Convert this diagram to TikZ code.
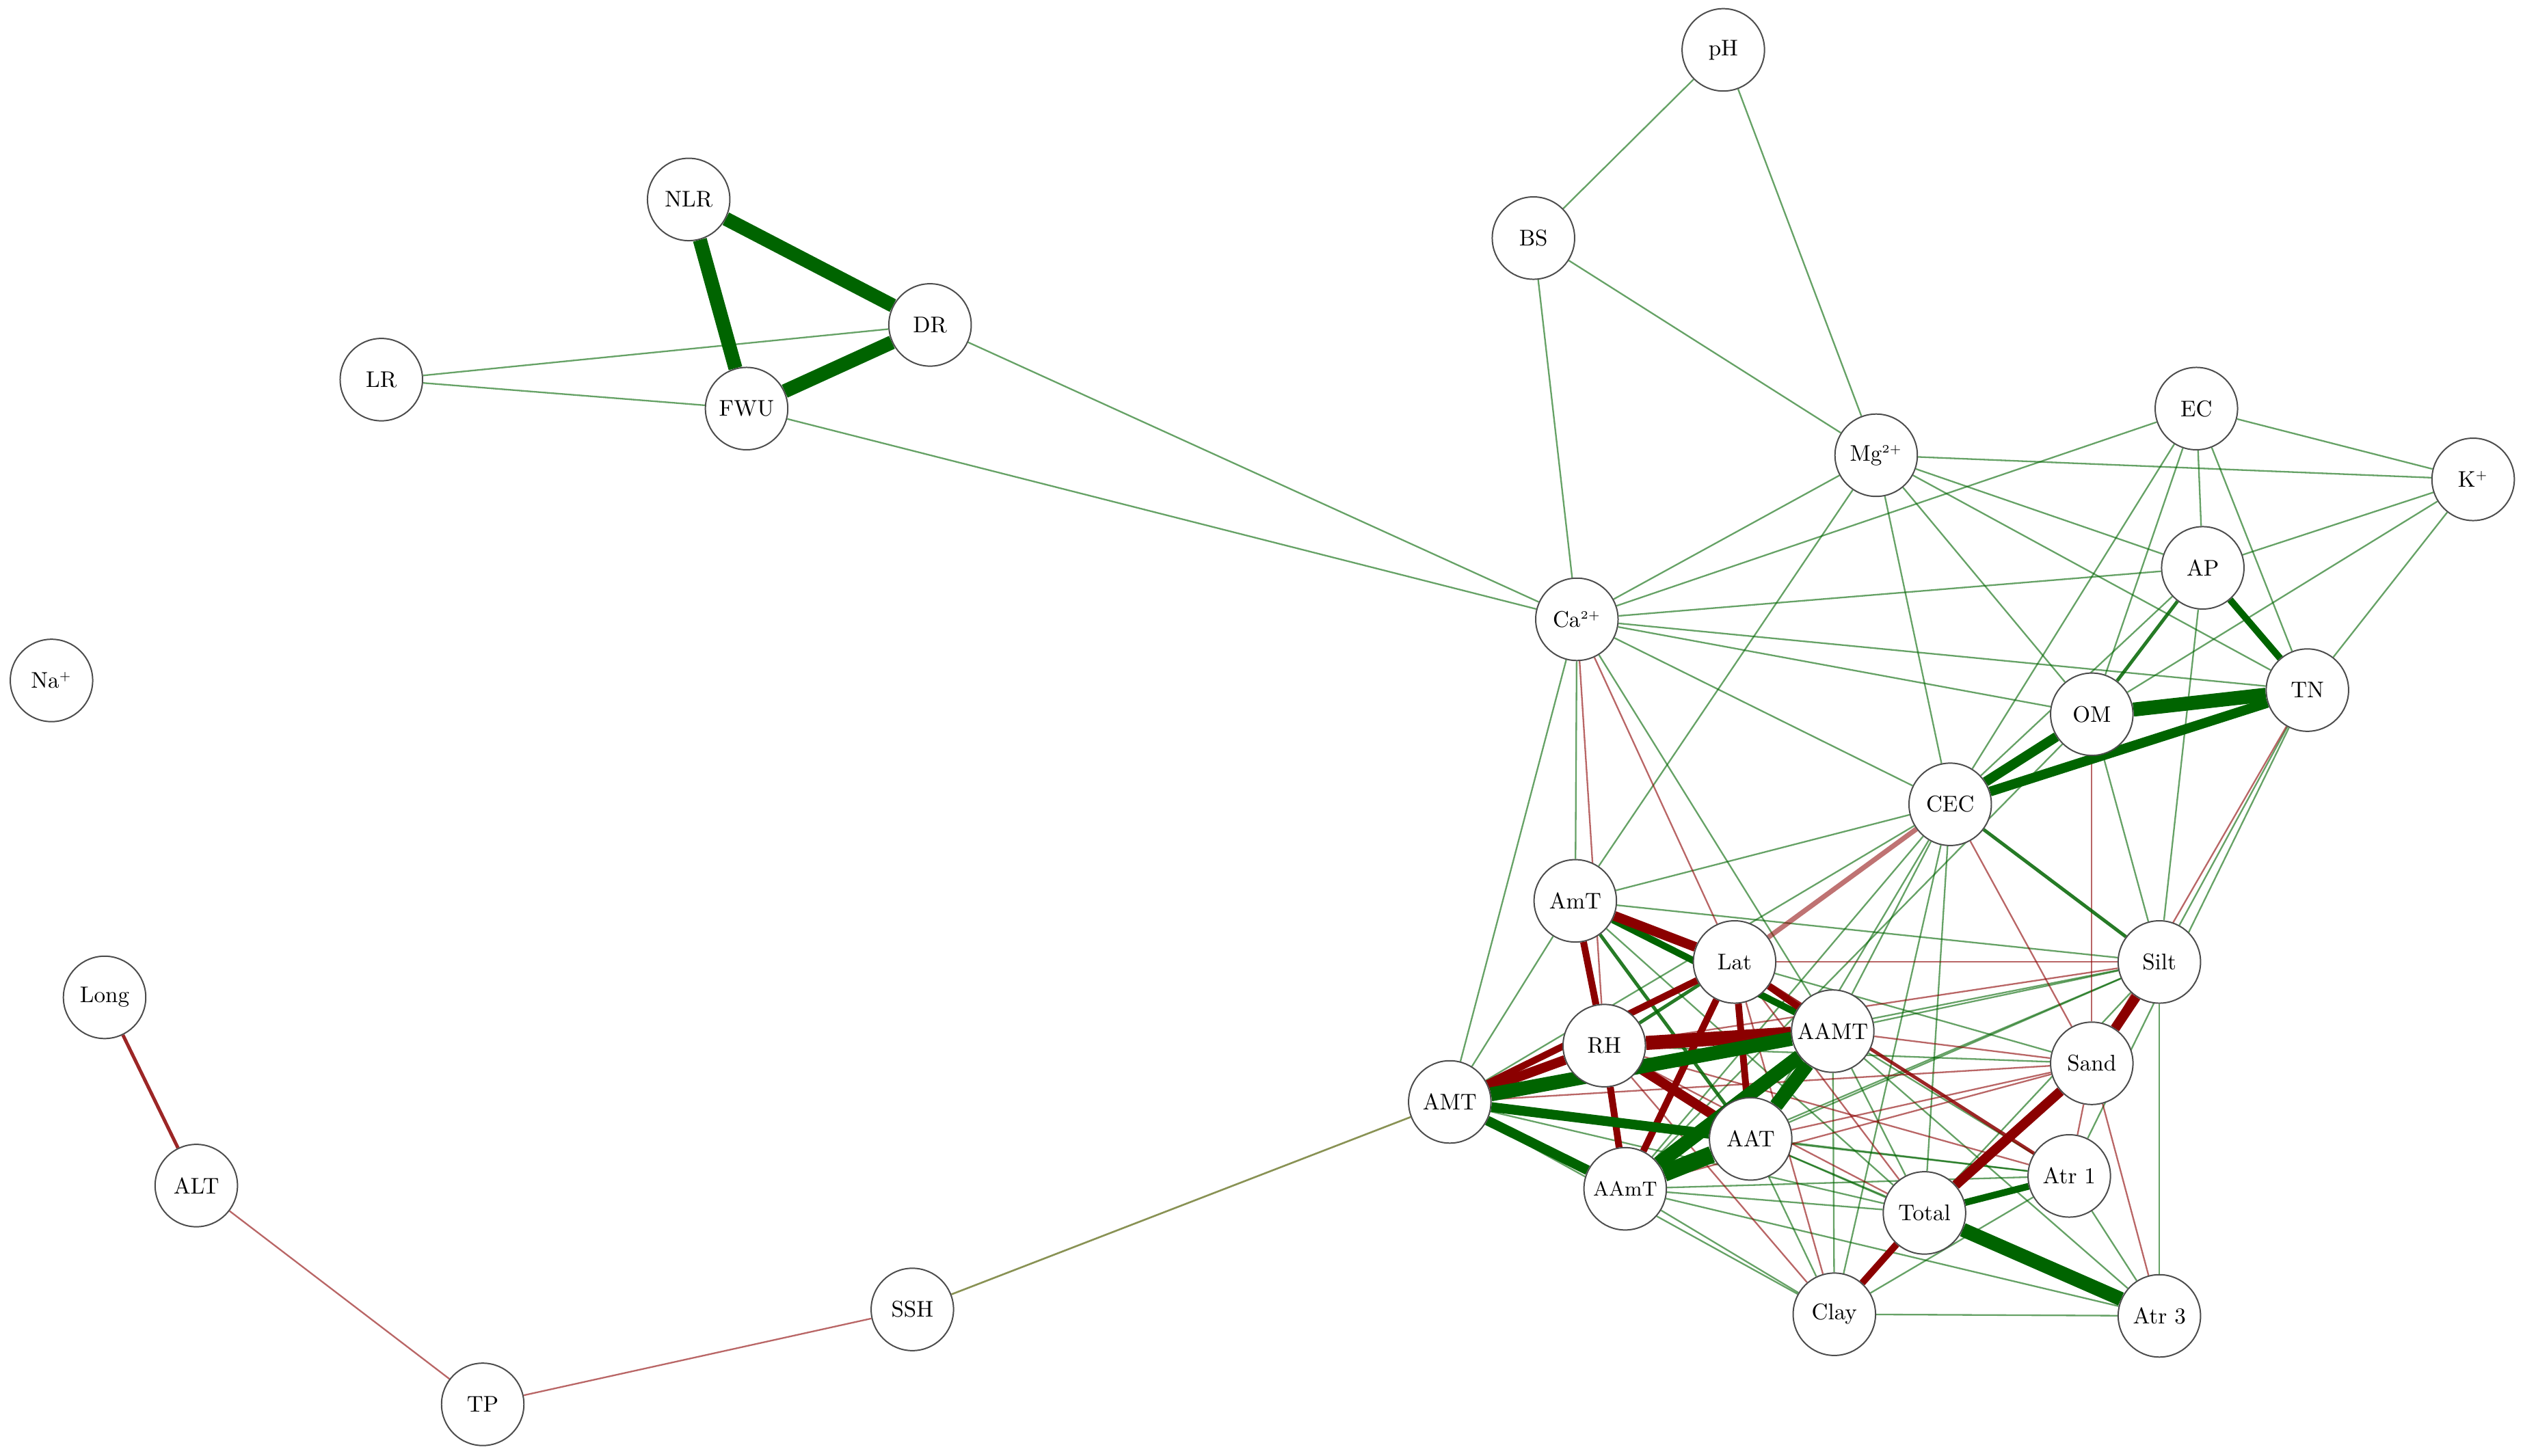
\documentclass[tikz,border=0pt]{standalone}
\usetikzlibrary{backgrounds}
\definecolor{posc}{RGB}{0,100,0}
\definecolor{negc}{RGB}{139,0,0}
\tikzset{
	var/.style={circle,draw=black!70,fill=white,line width=0.6pt,minimum size=1.28cm,inner sep=0pt},
	poscor/.style={draw=posc},
	negcor/.style={draw=negc},
	w1/.style={line width=0.7pt,draw opacity=0.6},
	w2/.style={line width=1.5pt,draw opacity=0.85},
	w3/.style={line width=3pt},
	w4/.style={line width=4.3pt},
	w5/.style={line width=6.2pt},
	w6/.style={line width=7.5pt}
}
\begin{document}
\begin{tikzpicture}[x=0.025cm,y=-0.025cm,font=\normalsize]
	\useasboundingbox (0,0) rectangle (1568,905);
	%%%bien
	\node[var] (pH) at (1071,31) {pH};
	\node[var] (NLR) at (428,124) {NLR};
	\node[var] (BS) at (953,148) {BS};
	\node[var] (DR) at (578,202) {DR};
	\node[var] (LR) at (237,236) {LR};
	\node[var] (FWU) at (464,254) {FWU};
	\node[var] (EC) at (1365,254) {EC};
	\node[var] (Mg) at (1166,283) {Mg\textsuperscript{\tiny 2+}};
	\node[var] (K) at (1537,298) {K\textsuperscript{\tiny +}};
	\node[var] (AP) at (1369,353) {AP};
	\node[var] (Ca) at (980,385) {Ca\textsuperscript{\tiny 2+}};
	\node[var] (Na) at (32,423) {Na\textsuperscript{\tiny +}};
	\node[var] (TN) at (1434,429) {TN};
	\node[var] (OM) at (1300,444) {OM};
	\node[var] (CEC) at (1212,500) {CEC};
	\node[var] (AmT) at (979,560) {AmT};
	\node[var] (Lat) at (1078,598) {Lat};
	\node[var] (Silt) at (1342,598) {Silt};
	\node[var] (Long) at (65,620) {Long};
	\node[var] (AAMT) at (1139,641) {AAMT};
	\node[var] (RH) at (997,650) {RH};
	\node[var] (Sand) at (1300,661) {Sand};
	\node[var] (AMT) at (901,685) {AMT};
	\node[var] (AAT) at (1088,708) {AAT};
	\node[var] (Atr1) at (1286,731) {Atr 1};
	\node[var] (ALT) at (122,737) {ALT};
	\node[var,font=\small] (AAmT) at (1010,739) {AAmT};
	\node[var] (Total) at (1196,754) {Total};
	\node[var] (SSH) at (567,814) {SSH};
	\node[var] (Clay) at (1140,817) {Clay};
	\node[var] (Atr3) at (1342,818) {Atr 3};
	\node[var] (TP) at (300,873) {TP};
	%%%canh
	\begin{pgfonlayer}{background}
		\foreach \x/\y in {LR/DR,LR/FWU,DR/Ca,FWU/Ca,pH/BS,pH/Mg,BS/Mg,BS/Ca,
			Mg/Ca,Mg/K,Mg/AP,Mg/TN,Mg/OM,Mg/CEC,Mg/AmT,
			EC/Ca,EC/K,EC/AP,EC/TN,EC/OM,EC/CEC,K/AP,K/OM,K/TN,
			AP/Ca,AP/CEC,AP/Silt,Ca/TN,Ca/OM,Ca/CEC,Ca/AMT,Ca/AmT,Ca/AAMT,
			OM/Silt,OM/AAmT,TN/Silt,TN/Atr1,
			CEC/AmT,CEC/AMT,CEC/AAMT,CEC/AAT,CEC/AAmT,CEC/Total,CEC/Clay,
			AmT/AMT,AmT/Silt,AmT/Total,
			AMT/Silt,AMT/Total,AMT/Atr1,AMT/Clay,
			AAMT/Silt,AAMT/Total,AAMT/Atr1,AAMT/Clay,AAMT/Atr3,
			AAT/Silt,AAT/Total,AAT/Atr1,AAT/Clay,AAT/Atr3,
			AAmT/Silt,AAmT/Total,AAmT/Atr1,AAmT/Clay,AAmT/Atr3,
			RH/Sand,Lat/Sand,Total/Silt,Silt/Atr3,Clay/Atr3,Clay/Atr1,Atr1/Atr3}
		\draw[poscor,w1] (\x)--(\y);
		\foreach \x/\y in {ALT/TP,TP/SSH,Ca/RH,Ca/Lat,AmT/AAmT,Lat/Silt,RH/Silt,
			Lat/Total,RH/Total,RH/Atr1,Lat/Clay,RH/Clay,CEC/Sand,OM/Sand,TN/Sand,
			AAMT/Sand,AMT/Sand,AAT/Sand,AAmT/Sand,Sand/Atr1,Sand/Atr3}
		\draw[negcor,w1] (\x)--(\y);
		\draw[line width=0.8pt,draw=olive!55!posc,draw opacity=0.8] (SSH)--(AMT);
		\draw[negcor,line width=2.2pt,draw opacity=0.55] (CEC)--(Lat);
		\foreach \x/\y in {Lat/Atr1,Long/ALT}
		\draw[negcor,w2] (\x)--(\y);
		\foreach \x/\y in {AP/OM,CEC/Silt,AmT/AAT,Lat/RH}
		\draw[poscor,w2] (\x)--(\y);
		\foreach \x/\y in {AP/TN,AmT/AAMT,Total/Atr1}
		\draw[poscor,w3] (\x)--(\y);
		\foreach \x/\y in {AmT/RH,Lat/AAMT,Lat/AAT,Lat/AAmT,Lat/AMT,Total/Clay,RH/AAmT}
		\draw[negcor,w3] (\x)--(\y);
		\foreach \x/\y in {AmT/Lat,RH/AAT,RH/AMT,Sand/Silt,Total/Sand}
		\draw[negcor,w4] (\x)--(\y);
		\draw[negcor,w5] (RH)--(AAMT);
		\foreach \x/\y in {AMT/AAmT,AMT/AAT,CEC/TN,CEC/OM}
		\draw[poscor,w4] (\x)--(\y);
		\foreach \x/\y in {NLR/DR,NLR/FWU,FWU/DR,OM/TN,AMT/AAMT,AAMT/AAT,AAMT/AAmT,Total/Atr3}
		\draw[poscor,w5] (\x)--(\y);
		\draw[poscor,w6] (AAT)--(AAmT);
	\end{pgfonlayer}
\end{tikzpicture}
\end{document}
